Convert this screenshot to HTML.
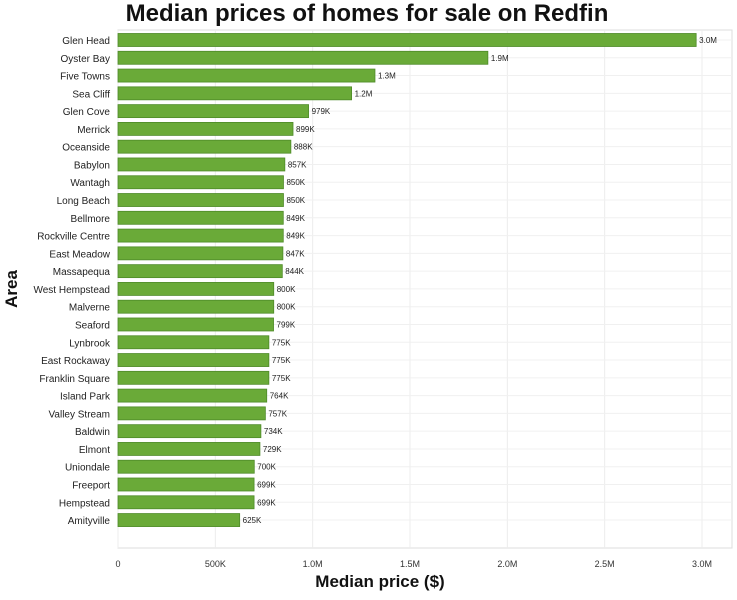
<!DOCTYPE html>
<html><head><meta charset="utf-8"><style>
body{margin:0;background:#fff;font-family:"Liberation Sans",sans-serif}
svg text{font-family:"Liberation Sans",sans-serif}
</style></head><body>
<svg id="chart" width="737" height="595">
<text x="367" y="21" text-anchor="middle" font-size="24" font-weight="bold" fill="#111">Median prices of homes for sale on Redfin</text>
<rect x="118" y="30" width="614" height="518" fill="none" stroke="#ddd"/>
<g id="grid"></g><g id="bars"></g><g id="labels"></g><g id="ticks"></g>
<text x="380" y="587" text-anchor="middle" font-size="17" font-weight="bold" fill="#111">Median price ($)</text>
<text transform="translate(17,289) rotate(-90)" text-anchor="middle" font-size="17" font-weight="bold" fill="#111">Area</text>
</svg>
<script>
const categories=["Glen Head","Oyster Bay","Five Towns","Sea Cliff","Glen Cove","Merrick","Oceanside","Babylon","Wantagh","Long Beach","Bellmore","Rockville Centre","East Meadow","Massapequa","West Hempstead","Malverne","Seaford","Lynbrook","East Rockaway","Franklin Square","Island Park","Valley Stream","Baldwin","Elmont","Uniondale","Freeport","Hempstead","Amityville"];
const values=[2970000,1900000,1320000,1200000,979000,899000,888000,857000,850000,850000,849000,849000,847000,844000,800000,800000,799000,775000,775000,775000,764000,757000,734000,729000,700000,699000,699000,625000];
const valueLabels=["3.0M","1.9M","1.3M","1.2M","979K","899K","888K","857K","850K","850K","849K","849K","847K","844K","800K","800K","799K","775K","775K","775K","764K","757K","734K","729K","700K","699K","699K","625K"];
const tickValues=[0,500000,1000000,1500000,2000000,2500000,3000000];
const tickLabels=["0","500K","1.0M","1.5M","2.0M","2.5M","3.0M"];
const NS="http://www.w3.org/2000/svg";
const x=v=>118+v*(702-118)/3000000;
const y=i=>40+i*17.78;
function mk(tag,attrs,parent,txt){const e=document.createElementNS(NS,tag);for(const k in attrs)e.setAttribute(k,attrs[k]);if(txt!==undefined)e.textContent=txt;document.getElementById(parent).appendChild(e);return e;}
tickValues.forEach((t,i)=>{
 const g=mk('line',{x1:x(t),x2:x(t),y1:30,y2:548,stroke:'#ececec'},'grid');
 
 
 const tl=mk('text',{x:x(t),y:567,'text-anchor':'middle','font-size':9,fill:'#333'},'ticks',tickLabels[i]);
 
 
});
categories.forEach((c,i)=>{
 const gl=mk('line',{x1:118,x2:732,y1:y(i),y2:y(i),stroke:'#f0f0f0'},'grid');
 
 
 const b=mk('rect',{x:118,y:y(i)-6.5,width:x(values[i])-118,height:13,fill:'#6aaa38',stroke:'#4e8a28','stroke-width':0.8},'bars');
 
 
 const l=mk('text',{x:110,y:y(i)+4,'text-anchor':'end','font-size':10,fill:'#222'},'labels',c);
 
 
 const v=mk('text',{x:x(values[i])+3,y:y(i)+3,'font-size':8,fill:'#222'},'labels',valueLabels[i]);
 
 
});
</script>
</body></html>
